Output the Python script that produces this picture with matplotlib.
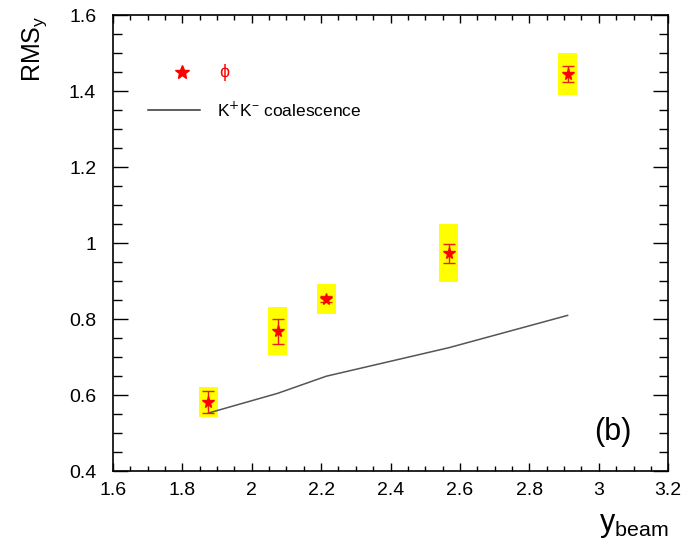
import matplotlib.pyplot as plt
from matplotlib.ticker import MultipleLocator

plt.rcParams['font.family'] = ['Liberation Sans', 'DejaVu Sans']

# phi data points
ybeam = [1.875, 2.075, 2.215, 2.568, 2.91]
rms = [0.582, 0.768, 0.853, 0.974, 1.445]
stat_err = [0.030, 0.032, 0.008, 0.025, 0.022]
sys_err = [0.040, 0.063, 0.040, 0.077, 0.055]

# K+K- coalescence curve
coal_x = [1.875, 2.075, 2.215, 2.568, 2.91]
coal_y = [0.553, 0.605, 0.650, 0.725, 0.810]

fig = plt.figure(figsize=(6.84, 5.41), dpi=100)
ax = fig.add_axes([0.165, 0.129, 0.812, 0.843])

# systematic boxes
ax.bar(ybeam, [2 * s for s in sys_err], bottom=[r - s for r, s in zip(rms, sys_err)],
       width=0.055, color='#ffff00', edgecolor='none', zorder=1)

ax.plot(coal_x, coal_y, color='#555555', lw=1.1, zorder=2)

ax.errorbar(ybeam, rms, yerr=stat_err, fmt='none', ecolor='#e8201c',
            elinewidth=1.0, capsize=4.5, capthick=1.0, zorder=3)
ax.plot(ybeam, rms, ls='none', marker='*', ms=8.5, color='#ff0000',
        mec='#ff0000', zorder=4)

# legend drawn by hand, ROOT style
ax.plot([1.80], [1.45], marker='*', ms=10, color='#ff0000', ls='none')
ax.text(1.92, 1.45, '\u03d5', color='#ff0000', fontsize=13, ha='center', va='center')
ax.plot([1.70, 1.85], [1.35, 1.35], color='#333333', lw=1.1)
ax.text(1.90, 1.35, 'K$^{+}$K$^{\\mathregular{-}}$ coalescence', fontsize=12.5, va='center')

ax.text(3.04, 0.503, '(b)', fontsize=22, ha='center', va='center')

ax.set_xlim(1.6, 3.2)
ax.set_ylim(0.4, 1.6)
ax.xaxis.set_major_locator(MultipleLocator(0.2))
ax.xaxis.set_minor_locator(MultipleLocator(0.05))
ax.yaxis.set_major_locator(MultipleLocator(0.2))
ax.yaxis.set_minor_locator(MultipleLocator(0.05))
ax.tick_params(which='both', direction='in', top=True, right=True, labelsize=14, width=1)
ax.tick_params(axis='x', which='major', length=5.5, pad=8)
ax.tick_params(axis='x', which='minor', length=3.5)
ax.tick_params(axis='y', which='major', length=11, pad=12)
ax.tick_params(axis='y', which='minor', length=6.5)
ax.xaxis.set_major_formatter(plt.FuncFormatter(lambda v, p: f'{v:g}'))
ax.yaxis.set_major_formatter(plt.FuncFormatter(lambda v, p: f'{v:g}'))
for s in ax.spines.values():
    s.set_linewidth(1.2)

ax.set_xlabel('y$_{\\mathregular{beam}}$', fontsize=22, loc='right', labelpad=8)
ax.set_ylabel('RMS$_{\\mathregular{y}}$', fontsize=18, loc='top', labelpad=14)

fig.savefig('out.png', dpi=100)
